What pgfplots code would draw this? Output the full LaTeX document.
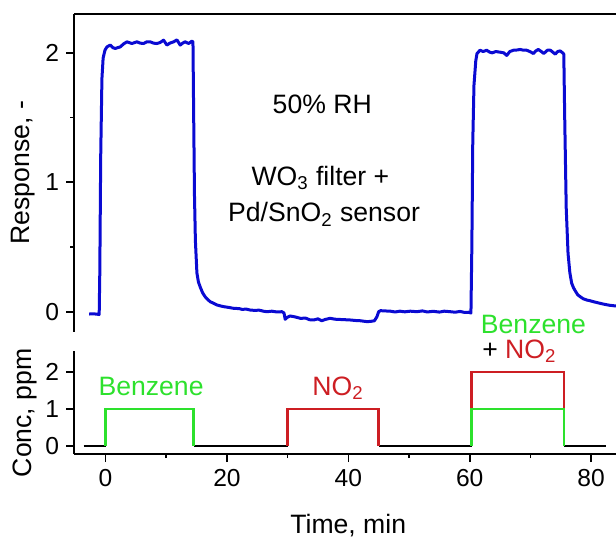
\documentclass[border=0pt]{standalone}
\usepackage{fontspec}
\setmainfont{Liberation Sans}
\usepackage{pgfplots}
\pgfplotsset{compat=1.18}

\definecolor{respblue}{RGB}{10,10,210}
\definecolor{benzgreen}{RGB}{45,225,45}
\definecolor{no2red}{RGB}{205,30,35}

\pgfplotsset{
  common/.style={
    scale only axis,
    width=271pt,
    xmin=-5.2, xmax=84.1,
    axis line style={line width=0.8pt},
    every tick/.style={line width=0.8pt, black},
    tick align=outside,
    major tick length=4pt,
    minor tick length=2pt,
    /pgf/number format/assume math mode=true,
    tick label style={font=\fontsize{12.3}{14}\selectfont},
    clip=false,
  }
}

\begin{document}
\begin{tikzpicture}
\path[use as bounding box] (0,0) rectangle (308pt,-268.5pt);

% upper panel: sensor response
\begin{axis}[common,
    at={(37pt,-7pt)}, anchor=north west,
    height=158.75pt,
    ymin=-0.153, ymax=2.30,
    axis x line*=top,
    axis y line*=left,
    xtick=\empty,
    ytick={0,1,2},
    minor y tick num=1,
    ylabel={Response, -},
    every axis y label/.style={at={(axis description cs:-0.094,0.5)}, rotate=90, anchor=center,
      font=\fontsize{13.3}{15}\selectfont},
]
\addplot[respblue, line width=1.5pt, line join=round] coordinates {
(-2.7,-0.018) (-2.0,-0.016) (-1.3,-0.020) (-1.05,-0.022) (-0.95,0.3) (-0.8,1.2)
(-0.6,1.8) (-0.4,1.96) (-0.1,2.02) (0.23,2.046) (0.77,2.06) (1.2,2.04)
(1.6,2.034) (2.42,2.046) (3.0,2.07) (3.52,2.085) (4.35,2.072) (5.17,2.085)
(5.7,2.075) (6.27,2.072) (6.8,2.085) (7.36,2.085) (7.9,2.075) (8.46,2.072)
(9.0,2.08) (9.56,2.098) (10.1,2.06) (10.6,2.075) (11.2,2.085) (11.76,2.10)
(12.3,2.06) (12.7,2.075) (13.1,2.085) (13.7,2.072) (14.2,2.09) (14.4,2.085)
(14.5,1.6) (14.65,0.9) (14.8,0.55) (15.05,0.30) (15.3,0.23) (15.6,0.19)
(16.0,0.145) (16.4,0.116) (16.8,0.095) (17.25,0.077) (17.8,0.065) (18.35,0.052)
(18.9,0.045) (19.45,0.039) (20.3,0.033) (21.1,0.026) (22.0,0.024) (22.5,0.018)
(23.2,0.02) (23.8,0.013) (24.6,0.01) (25.3,0.012) (26.0,0.004) (26.6,0.0)
(27.4,0.004) (28.2,-0.002) (29.06,0.0) (29.4,-0.01) (29.6,-0.059) (29.9,-0.045)
(30.4,-0.033) (31.2,-0.04) (32.1,-0.051) (33.0,-0.05) (33.6,-0.062) (34.3,-0.064)
(35.0,-0.055) (35.6,-0.07) (36.2,-0.06) (37.0,-0.051) (37.8,-0.058) (38.6,-0.06)
(39.5,-0.062) (40.3,-0.064) (41.2,-0.068) (42.0,-0.07) (43.1,-0.077) (43.8,-0.074)
(44.3,-0.07) (44.7,-0.04) (45.0,0.0) (45.3,0.008) (46.0,0.006) (46.9,0.004)
(47.7,-0.002) (48.5,0.004) (49.3,-0.001) (50.2,0.004) (51.3,0.0) (52.2,0.006)
(53.0,-0.002) (54.0,0.003) (55.0,-0.003) (55.8,0.004) (56.8,0.0) (57.6,-0.004)
(58.4,0.002) (59.2,-0.006) (59.8,-0.004) (60.2,-0.01) (60.35,0.5) (60.5,1.3)
(60.7,1.75) (61.0,1.94) (61.2,1.995) (61.7,2.02) (62.2,2.01) (62.8,2.02)
(63.3,2.005) (63.7,2.0) (64.3,2.01) (65.0,2.005) (65.6,2.0) (66.1,1.98)
(66.6,2.01) (67.2,2.02) (67.8,2.022) (68.3,2.026) (68.9,2.02) (69.4,2.02)
(69.9,2.01) (70.5,1.995) (70.9,2.015) (71.3,2.026) (71.8,2.01) (72.2,1.995)
(72.8,2.02) (73.3,2.02) (73.7,2.005) (74.1,1.99) (74.5,2.01) (74.9,2.015)
(75.3,2.0) (75.5,1.99) (75.65,1.5) (75.9,0.8) (76.2,0.45) (76.5,0.3)
(76.8,0.22) (77.1,0.185) (77.4,0.16) (77.8,0.13) (78.2,0.116) (78.7,0.1)
(79.3,0.09) (79.8,0.085) (80.4,0.077) (81.2,0.068) (82.0,0.059) (83.0,0.05)
(84.1,0.044)
};
\node[font=\fontsize{13.3}{15}\selectfont, anchor=base] at (axis cs:35.7,1.53) {50\% RH};
\node[font=\fontsize{13.3}{15}\selectfont, anchor=base] at (axis cs:35.4,0.978) {WO\textsubscript{3} filter +};
\node[font=\fontsize{13.3}{15}\selectfont, anchor=base] at (axis cs:36.0,0.695) {Pd/SnO\textsubscript{2} sensor};
\end{axis}

% lower panel: gas concentrations
\begin{axis}[common,
    at={(37pt,-175.5pt)}, anchor=north west,
    height=51.5pt,
    ymin=-0.22, ymax=2.56,
    axis x line*=bottom,
    axis y line*=left,
    xtick={0,20,40,60,80},
    minor x tick num=1,
    ytick={0,1,2},
    xlabel={Time, min},
    ylabel={Conc, ppm},
    every axis x label/.style={at={(axis description cs:0.506,-0.767)}, anchor=base,
      font=\fontsize{13.3}{15}\selectfont},
    every axis y label/.style={at={(axis description cs:-0.091,0.40)}, rotate=90, anchor=center,
      font=\fontsize{13.3}{15}\selectfont},
    unbounded coords=jump,
]
\addplot[black, line width=1.2pt] coordinates {
(-3.6,0) (0,0) (nan,nan) (14.5,0) (30,0) (nan,nan) (45,0) (60.3,0) (nan,nan) (75.5,0) (82.5,0)
};
\addplot[no2red, line width=1.2pt] coordinates {
(30,0) (30,1) (45,1) (45,0) (nan,nan) (60.3,1) (60.3,2) (75.5,2) (75.5,1)
};
\addplot[benzgreen, line width=1.2pt] coordinates {
(0,0) (0,1) (14.5,1) (14.5,0) (nan,nan) (60.3,0) (60.3,1) (75.5,1) (75.5,0)
};
\node[font=\fontsize{13.3}{15}\selectfont, text=benzgreen, anchor=base] at (axis cs:7.5,1.37) {Benzene};
\node[font=\fontsize{13.3}{15}\selectfont, text=no2red, anchor=base] at (axis cs:38.3,1.37) {NO\textsubscript{2}};
\node[font=\fontsize{13.3}{15}\selectfont, text=benzgreen, anchor=base] at (axis cs:70.5,3.04) {Benzene};
\node[font=\fontsize{13.3}{15}\selectfont, anchor=base west, inner sep=0pt] at (axis cs:62.0,2.36) {+ \textcolor{no2red}{NO\textsubscript{2}}};
\end{axis}
\end{tikzpicture}
\end{document}
